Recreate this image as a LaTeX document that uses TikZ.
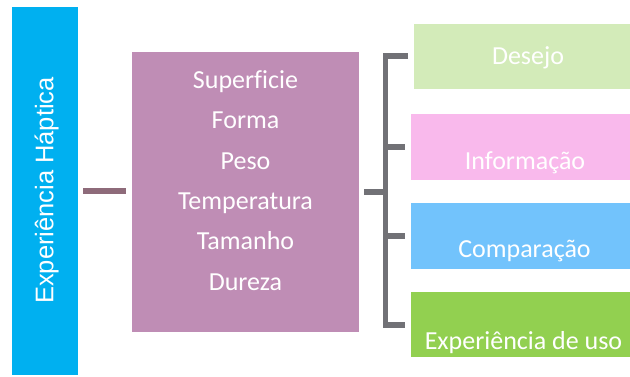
\documentclass[tikz,border=0pt]{standalone}
\usepackage{fontspec}
\setmainfont{Carlito}[Ligatures=NoCommon]
\newfontfamily\arialfont{Liberation Sans}
\definecolor{hapblue}{HTML}{00B0F0}
\definecolor{attrpurple}{HTML}{BF8DB5}
\definecolor{linkmauve}{HTML}{8E6B7A}
\definecolor{linkgray}{HTML}{717176}
\definecolor{desgreen}{HTML}{D3EBB9}
\definecolor{infpink}{HTML}{F9B9EC}
\definecolor{cmpblue}{HTML}{72C3FC}
\definecolor{usogreen}{HTML}{92D050}
\tikzset{
  panel/.style={draw=none, inner sep=0pt, outer sep=0pt},
  label/.style={text=white, font=\fontsize{26}{26}\selectfont, anchor=base, inner sep=0pt},
  link/.style={line width=5.5pt, line cap=butt},
}
\begin{document}
\begin{tikzpicture}[x=1pt, y=-1pt]
  \useasboundingbox (0,0) rectangle (630,376);

  % main title bar
  \fill[hapblue] (12,7) rectangle (78,375);
  \node[label, font=\arialfont\fontsize{25.5}{25.5}\selectfont, rotate=90] (title) at (53.3,190.5) {Experiência Háptica};
  \coordinate (titleR) at (83,191);

  % attribute box
  \fill[attrpurple] (132,52) rectangle (359,332);
  \coordinate (attrL) at (126,191);
  \coordinate (attrR) at (364,192);
  \node[label] (a1) at (245.5,88.3) {Superficie};
  \node[label] (a2) at (245.5,128.7) {Forma};
  \node[label] (a3) at (245.5,169.1) {Peso};
  \node[label] (a4) at (245.5,209.5) {Temperatura};
  \node[label] (a5) at (245.5,249.9) {Tamanho};
  \node[label] (a6) at (245.5,290.3) {Dureza};

  % outcome boxes
  \fill[desgreen] (414,24) rectangle (630,89);
  \fill[infpink] (411,114) rectangle (630,180);
  \fill[cmpblue] (411,203) rectangle (630,269);
  \fill[usogreen] (411,292) rectangle (630,357);
  \node[label] (o1) at (528,64.3) {Desejo};
  \node[label] (o2) at (525,169.3) {Informação};
  \node[label] (o3) at (524.5,257.7) {Comparação};
  \node[label] (o4) at (523.5,349.3) {Experiência de uso};

  % bracket endpoints
  \coordinate (b0) at (385.5,192);
  \coordinate (b1) at (385.5,56);
  \coordinate (b4) at (385.5,325);
  \coordinate (t1) at (408,56);
  \coordinate (t2) at (405,147);
  \coordinate (t3) at (405,236);
  \coordinate (t4) at (405,325);

  % connectors
  \draw[link, linkmauve] (titleR) -- (attrL);
  \draw[link, linkgray] (attrR) -- (b0);
  \draw[link, linkgray, line join=miter] (t1) -- (b1) -- (b4) -- (t4);
  \draw[link, linkgray] (b0 |- t2) -- (t2);
  \draw[link, linkgray] (b0 |- t3) -- (t3);
\end{tikzpicture}
\end{document}
